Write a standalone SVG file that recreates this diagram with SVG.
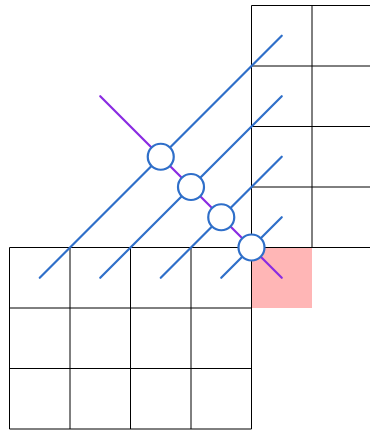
<svg xmlns="http://www.w3.org/2000/svg" width="370" height="430" viewBox="0 0 370 430">
<style>
.grid{stroke:#000;stroke-width:1;fill:none}
.blue{stroke:#2f6fc9;stroke-width:2.2;stroke-linecap:round;fill:none}
.purple{stroke:#8a2be2;stroke-width:2.2;stroke-linecap:round;fill:none}
.node{fill:#fff;stroke:#2f6fc9;stroke-width:2.2}
</style>
<rect x="0" y="0" width="370" height="430" fill="#fff"/>
<rect id="highlight" x="251.5" y="247.5" width="60.5" height="60.5" fill="#ffb6b6"/>
<g id="grid-bottom-left" class="grid">
<path d="M9.5 247.5H251.5M9.5 308H251.5M9.5 368.5H251.5M9.5 429H251.5"/>
<path d="M9.5 247.5V429M70 247.5V429M130.5 247.5V429M191 247.5V429M251.5 247.5V429"/>
</g>
<g id="grid-top-right" class="grid">
<path d="M251.5 5.5H372.5M251.5 66H372.5M251.5 126.5H372.5M251.5 187H372.5M251.5 247.5H372.5"/>
<path d="M251.5 5.5V247.5M312 5.5V247.5M372.5 5.5V247.5"/>
</g>
<g id="connectors">
<line class="blue" x1="39.75" y1="277.75" x2="281.75" y2="35.75"/>
<line class="blue" x1="100.25" y1="277.75" x2="281.75" y2="96.25"/>
<line class="blue" x1="160.75" y1="277.75" x2="281.75" y2="156.75"/>
<line class="blue" x1="221.25" y1="277.75" x2="281.75" y2="217.25"/>
<line class="purple" x1="100.25" y1="96.25" x2="281.75" y2="277.75"/>
</g>
<g id="n1"><circle class="node" cx="160.75" cy="156.75" r="13"/></g>
<g id="n2"><circle class="node" cx="191" cy="187" r="13"/></g>
<g id="n3"><circle class="node" cx="221.25" cy="217.25" r="13"/></g>
<g id="n4"><circle class="node" cx="251.5" cy="247.5" r="13"/></g>
</svg>
